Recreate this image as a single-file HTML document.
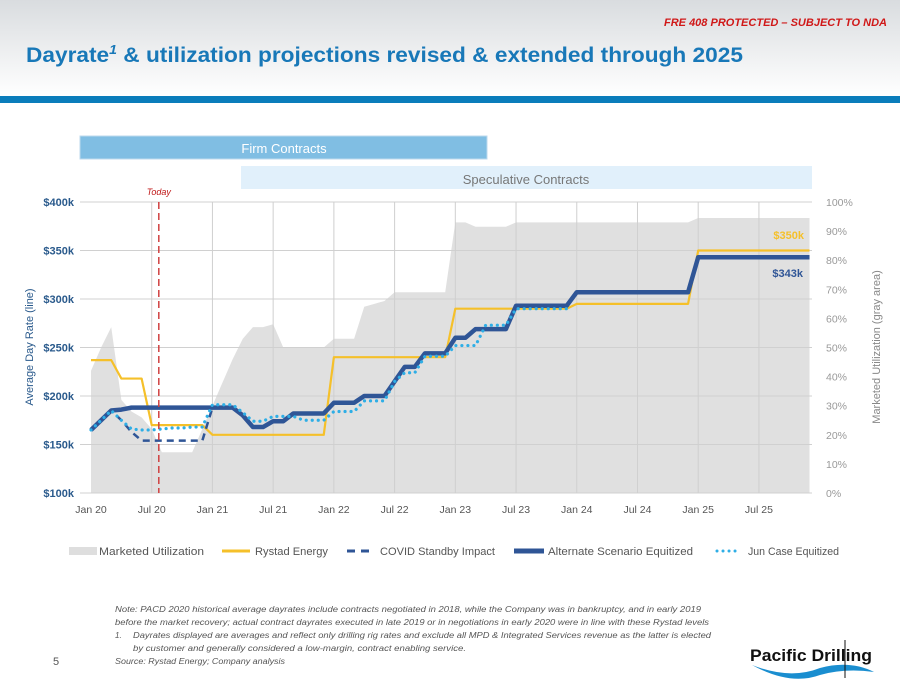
<!DOCTYPE html>
<html><head><meta charset="utf-8"><style>
html,body{margin:0;padding:0;width:900px;height:695px;overflow:hidden;background:#fff}
svg{display:block;font-family:"Liberation Sans",sans-serif}
</style></head><body>
<svg id="page" width="900" height="695" viewBox="0 0 900 695" xmlns="http://www.w3.org/2000/svg">
<defs><linearGradient id="hg" x1="0" y1="0" x2="0" y2="1"><stop offset="0" stop-color="#d9dcdf"/><stop offset="1" stop-color="#ffffff"/></linearGradient></defs>
<rect x="0" y="0" width="900" height="96" fill="url(#hg)"/>
<rect x="0" y="96" width="900" height="7" fill="#0a7dbb"/>
<text x="887" y="26" text-anchor="end" font-size="11" font-weight="bold" font-style="italic" fill="#d01818" textLength="223" lengthAdjust="spacingAndGlyphs">FRE 408 PROTECTED – SUBJECT TO NDA</text>
<text x="26" y="62" font-size="21" font-weight="bold" fill="#1878b8" textLength="717" lengthAdjust="spacingAndGlyphs">Dayrate<tspan font-style="italic" font-size="13" dy="-8">1</tspan><tspan dy="8"> &amp; utilization projections revised &amp; extended through 2025</tspan></text>
<rect x="80" y="136" width="407" height="23" fill="#80bee3" stroke="#bcd9ee"/>
<text x="284" y="153" text-anchor="middle" font-size="13" fill="#fff">Firm Contracts</text>
<rect x="241" y="166" width="571" height="23" fill="#e1f0fb"/>
<text x="526" y="184" text-anchor="middle" font-size="13" fill="#777">Speculative Contracts</text>
<g id="chart"></g>
<g font-size="11" fill="#555">
<g><rect x="69" y="547" width="28" height="8" fill="#dedede"/><text x="99" y="555" textLength="105" lengthAdjust="spacingAndGlyphs">Marketed Utilization</text></g>
<g><line x1="222" y1="551" x2="250" y2="551" stroke="#f5c02a" stroke-width="3"/><text x="255" y="555" textLength="73" lengthAdjust="spacingAndGlyphs">Rystad Energy</text></g>
<g><line x1="347" y1="551" x2="375" y2="551" stroke="#2f5596" stroke-width="3" stroke-dasharray="8,6"/><text x="380" y="555" textLength="115" lengthAdjust="spacingAndGlyphs">COVID Standby Impact</text></g>
<g><line x1="514" y1="551" x2="544" y2="551" stroke="#2f5596" stroke-width="5"/><text x="548" y="555" textLength="145" lengthAdjust="spacingAndGlyphs">Alternate Scenario Equitized</text></g>
<g><line x1="717" y1="551" x2="740" y2="551" stroke="#2eaee6" stroke-width="3" stroke-dasharray="0.01,6" stroke-linecap="round"/><text x="748" y="555" textLength="91" lengthAdjust="spacingAndGlyphs">Jun Case Equitized</text></g>
</g>
<g font-size="8" font-style="italic" fill="#555">
<text x="115" y="612" textLength="586" lengthAdjust="spacingAndGlyphs">Note: PACD 2020 historical average dayrates include contracts negotiated in 2018, while the Company was in bankruptcy, and in early 2019</text>
<text x="115" y="625" textLength="594" lengthAdjust="spacingAndGlyphs">before the market recovery; actual contract dayrates executed in late 2019 or in negotiations in early 2020 were in line with these Rystad levels</text>
<text x="115" y="638">1.</text>
<text x="133" y="638" textLength="578" lengthAdjust="spacingAndGlyphs">Dayrates displayed are averages and reflect only drilling rig rates and exclude all MPD &amp; Integrated Services revenue as the latter is elected</text>
<text x="133" y="651" textLength="333" lengthAdjust="spacingAndGlyphs">by customer and generally considered a low-margin, contract enabling service.</text>
<text x="115" y="664" textLength="170" lengthAdjust="spacingAndGlyphs">Source: Rystad Energy; Company analysis</text>
</g>
<text x="53" y="665" font-size="11" fill="#555">5</text>
<g>
<text x="750" y="661" font-size="17" font-weight="bold" fill="#111" textLength="122" lengthAdjust="spacingAndGlyphs">Pacific Drilling</text>
<path d="M752 665 Q790 680 820 668 Q850 660 874 672 Q845 668 820 675 Q790 686 752 665Z" fill="#1a8ed0"/>
<line x1="845" y1="640" x2="845" y2="678" stroke="#111" stroke-width="1"/>
</g>
</svg>
<script>
const months = ["Jan 20","Jul 20","Jan 21","Jul 21","Jan 22","Jul 22","Jan 23","Jul 23","Jan 24","Jul 24","Jan 25","Jul 25"];
const leftTicks = [100,150,200,250,300,350,400];
const rightTicks = [0,10,20,30,40,50,60,70,80,90,100];
const utilization = [42,50,57,32,28,26,22,14,14,14,14,22,30,38,46,53,57,57,58,50,50,50,50,50,53,53,53,64,65,66,69,69,69,69,69,69,93,93,91.5,91.5,91.5,91.5,93,93,93,93,93,93,93,93,93,93,93,93,93,93,93,93,93,93,94.5,94.5,94.5,94.5,94.5,94.5,94.5,94.5,94.5,94.5,94.5,94.5];
const rystad = [237,237,237,218,218,218,170,170,170,170,170,170,160,160,160,160,160,160,160,160,160,160,160,160,240,240,240,240,240,240,240,240,240,240,240,240,290,290,290,290,290,290,290,290,290,290,290,290,295,295,295,295,295,295,295,295,295,295,295,295,350,350,350,350,350,350,350,350,350,350,350,350];
const alternate = [165,175,185,186,188,188,188,188,188,188,188,188,188,188,188,180,168,168,174,174,182,182,182,182,193,193,193,200,200,200,215,230,230,244,244,244,260,260,269,269,269,269,293,293,293,293,293,293,307,307,307,307,307,307,307,307,307,307,307,307,343,343,343,343,343,343,343,343,343,343,343,343];
const covid = [165,175,185,175,163,154,154,154,154,154,154,154,188];
const junCase = [165,175,185,175,166,165,165,166,167,167,168,168,191,191,191,183,174,174,179,179,179,175,175,175,184,184,184,195,195,195,215,224,224,241,241,241,252,252,252,273,273,273,290,290,290,290,290,290];
const todayMonth = 6.7;

const NS="http://www.w3.org/2000/svg";
const g=document.getElementById('chart');
const X0=91, PXM=10.12, YT=202, YB=493;
const xs=m=>X0+m*PXM;
const ys=v=>YB-(v-100)/300*(YB-YT);
const yp=p=>YB-p/100*(YB-YT);
function mk(tag,attrs,parent){const e=document.createElementNS(NS,tag);for(const k in attrs)e.setAttribute(k,attrs[k]);(parent||g).appendChild(e);return e;}

let d=`M${xs(0)},${YB}`;
utilization.forEach((p,i)=>{d+=` L${xs(i)},${yp(p)}`;});
d+=` L${xs(utilization.length-1)},${YB}Z`;
const area=mk('path',{d:d,fill:'#e0e0e0'});



leftTicks.forEach(v=>{
  const l=mk('line',{x1:80,x2:812,y1:ys(v),y2:ys(v),stroke:'#d0d0d0','stroke-width':1});
  
  
  const t=mk('text',{x:74,y:ys(v)+4,'text-anchor':'end','font-size':11,'font-weight':'bold',fill:'#2a5a8c'});
  t.textContent='$'+v+'k';
  
  
});
rightTicks.forEach(p=>{
  const t=mk('text',{x:826,y:yp(p)+4,'font-size':10.5,fill:'#999'});
  t.textContent=p+'%';
  
  
});
months.forEach((m,i)=>{
  const x=xs(i*6);
  if(i>0){const l=mk('line',{x1:x,x2:x,y1:YT,y2:YB,stroke:'#cfcfcf','stroke-width':1});
  
  }
  const t=mk('text',{x:x,y:513,'text-anchor':'middle','font-size':10.5,fill:'#555'});
  t.textContent=m;
  
  
});

function line(arr,attrs,name){
  let pd='';arr.forEach((v,i)=>{if(v==null)return;pd+=(pd?' L':'M')+xs(i)+','+ys(v);});
  const p=mk('path',Object.assign({d:pd,fill:'none','stroke-linejoin':'round'},attrs));
  
  
}
line(rystad,{stroke:'#f5c02a','stroke-width':2.2},'rystad-line');
line(covid,{stroke:'#2f5596','stroke-width':2.5,'stroke-dasharray':'7,5'},'covid-line');
line(alternate,{stroke:'#2f5596','stroke-width':4.5},'alternate-line');
line(junCase,{stroke:'#2eaee6','stroke-width':3.2,'stroke-dasharray':'0.01,6','stroke-linecap':'round'},'jun-case-line');

const tl=mk('line',{x1:xs(todayMonth),x2:xs(todayMonth),y1:YT,y2:YB,stroke:'#d04040','stroke-width':1.5,'stroke-dasharray':'7,4'});


const tt=mk('text',{x:xs(todayMonth),y:195,'text-anchor':'middle','font-size':9,'font-style':'italic',fill:'#c01818'});
tt.textContent='Today';



const l1=mk('text',{x:804,y:239,'text-anchor':'end','font-size':11,'font-weight':'bold',fill:'#f5c02a'});
l1.textContent='$'+rystad[rystad.length-1]+'k';


const l2=mk('text',{x:803,y:277,'text-anchor':'end','font-size':11,'font-weight':'bold',fill:'#2f5596'});
l2.textContent='$'+alternate[alternate.length-1]+'k';



const yt=mk('text',{transform:'translate(33,347) rotate(-90)','text-anchor':'middle','font-size':11,fill:'#2a5a8c'});
yt.textContent='Average Day Rate (line)';


const yt2=mk('text',{transform:'translate(880,347) rotate(-90)','text-anchor':'middle','font-size':11,fill:'#888'});
yt2.textContent='Marketed Utilization (gray area)';


</script>
</body></html>
